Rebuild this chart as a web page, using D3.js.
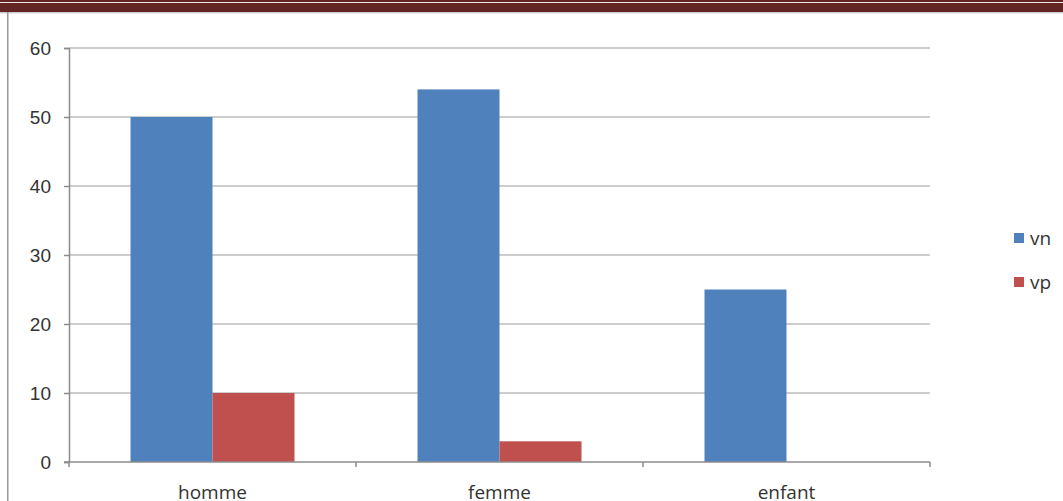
<!DOCTYPE html>
<html>
<head>
<meta charset="utf-8">
<script src="https://cdn.jsdelivr.net/npm/d3@7/dist/d3.min.js"></script>
<style>
  html, body { margin: 0; padding: 0; background: #fff; }
  svg { display: block; font-family: "Open Sans", "Liberation Sans", sans-serif; }
</style>
</head>
<body>
<svg id="chart" width="1063" height="501"></svg>
<script>
// Categories and series values
const categories = ["homme", "femme", "enfant"];
const seriesNames = ["vn", "vp"];
const vn = [50, 54, 25];
const vp = [10, 3, 0];
const yTicks = [0, 10, 20, 30, 40, 50, 60];

const colors = { vn: "#4f81bd", vp: "#c0504d" };

const svg = d3.select("#chart");
const W = 1063, H = 501;

// Page decoration: brown header rule and left frame line
svg.append("rect").attr("x", 0).attr("y", 0).attr("width", W).attr("height", 12).attr("fill", "#632523");
svg.append("rect").attr("x", 0).attr("y", 2).attr("width", W).attr("height", 1).attr("fill", "#f2e6e6");
svg.append("rect").attr("x", 0).attr("y", 12).attr("width", W).attr("height", 1.5).attr("fill", "#cfcfcf");
svg.append("rect").attr("x", 7).attr("y", 12).attr("width", 1.5).attr("height", H - 12).attr("fill", "#9a9a9a");

const plotLeft = 69, plotRight = 930, plotTop = 48, plotBottom = 462;

const x = d3.scaleBand().domain(categories).range([plotLeft, plotRight]).paddingInner(0).paddingOuter(0);
const xInner = d3.scaleBand().domain(seriesNames).range([0, x.bandwidth()]).paddingInner(0).paddingOuter(0.75);
const y = d3.scaleLinear().domain([0, 60]).range([plotBottom, plotTop]);

// Horizontal gridlines
svg.append("g").selectAll("line").data(yTicks.filter(d => d > 0)).join("line")
  .attr("x1", plotLeft).attr("x2", plotRight)
  .attr("y1", d => y(d)).attr("y2", d => y(d))
  .attr("stroke", "#bdbdbd").attr("stroke-width", 1.5);

// Bars
const data = categories.map((c, i) => ({ cat: c, vals: [{ s: "vn", v: vn[i] }, { s: "vp", v: vp[i] }] }));
const groups = svg.append("g").selectAll("g").data(data).join("g")
  .attr("transform", d => `translate(${x(d.cat)},0)`);
groups.selectAll("rect").data(d => d.vals).join("rect")
  .attr("x", d => xInner(d.s))
  .attr("width", xInner.bandwidth())
  .attr("y", d => y(d.v))
  .attr("height", d => y(0) - y(d.v))
  .attr("fill", d => colors[d.s]);

// Y axis
const yAxis = svg.append("g").attr("transform", `translate(${plotLeft},0)`)
  .call(d3.axisLeft(y).tickValues(yTicks).tickSize(5).tickPadding(13));
yAxis.select(".domain").attr("stroke", "#8c8c8c").attr("stroke-width", 1.5);
yAxis.selectAll(".tick line").attr("stroke", "#8c8c8c").attr("stroke-width", 1.5);
yAxis.selectAll(".tick text").attr("fill", "#333").attr("font-size", 19);

// X axis: ticks at category boundaries
const xAxisG = svg.append("g").attr("transform", `translate(0,${y(0)})`);
xAxisG.append("line").attr("x1", plotLeft - 5).attr("x2", plotRight)
  .attr("stroke", "#8c8c8c").attr("stroke-width", 1.5);
const boundaries = categories.map(c => x(c)).concat([x(categories[categories.length - 1]) + x.bandwidth()]);
xAxisG.selectAll("line.b").data(boundaries).join("line").attr("class", "b")
  .attr("x1", d => d).attr("x2", d => d).attr("y1", 0).attr("y2", 5)
  .attr("stroke", "#8c8c8c").attr("stroke-width", 1.5);
xAxisG.selectAll("text").data(categories).join("text")
  .attr("x", d => x(d) + x.bandwidth() / 2).attr("y", 37)
  .attr("text-anchor", "middle").attr("fill", "#333").attr("font-size", 19)
  .text(d => d);

// Legend
const legend = svg.append("g").selectAll("g").data(seriesNames).join("g")
  .attr("transform", (d, i) => `translate(1014,${233 + i * 44})`);
legend.append("rect").attr("width", 10).attr("height", 10).attr("fill", d => colors[d]);
legend.append("text").attr("x", 16).attr("y", 5).attr("dy", "0.35em")
  .attr("fill", "#333").attr("font-size", 19).text(d => d);
</script>
</body>
</html>
